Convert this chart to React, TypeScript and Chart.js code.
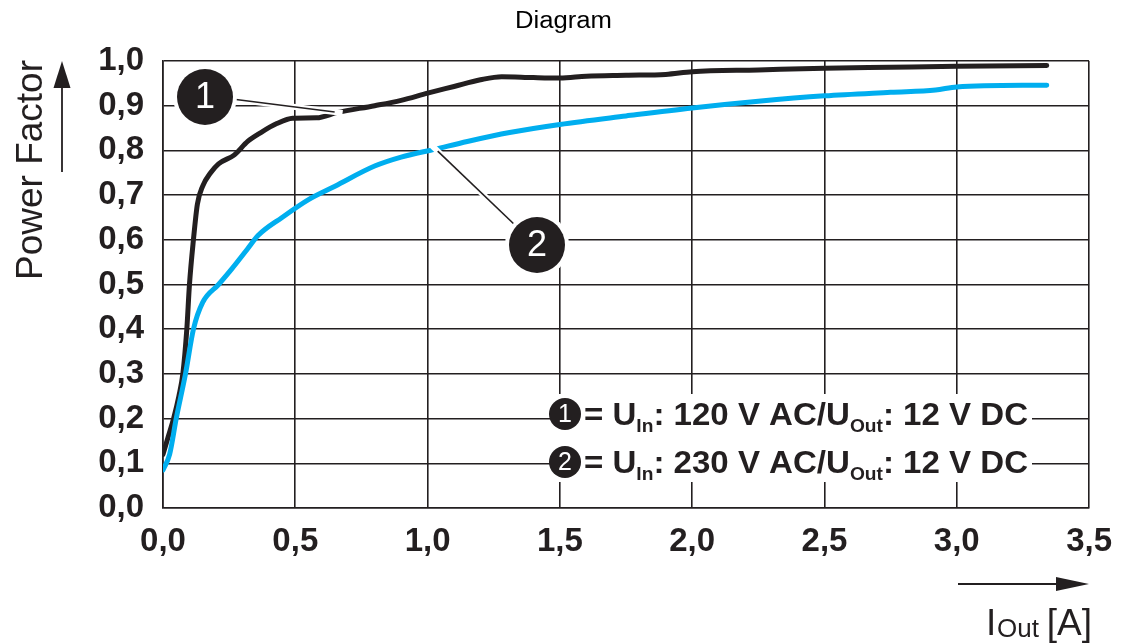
import React, { useEffect, useRef } from 'react';
import { Chart, registerables } from 'chart.js';

Chart.register(...registerables);

// ---- data ----
const current1 = [0, 0.02, 0.04, 0.06, 0.075, 0.09, 0.1, 0.115, 0.13, 0.15, 0.18, 0.21, 0.27, 0.32, 0.37, 0.43, 0.49, 0.58, 0.66, 0.8, 0.9, 1.0, 1.1, 1.2, 1.28, 1.4, 1.5, 1.6, 1.75, 1.9, 2.0, 2.25, 2.5, 2.75, 3.0, 3.34];
const pf1 = [0.12, 0.16, 0.2, 0.25, 0.3, 0.4, 0.5, 0.6, 0.68, 0.72, 0.75, 0.77, 0.79, 0.82, 0.84, 0.86, 0.872, 0.873, 0.885, 0.9, 0.912, 0.928, 0.943, 0.958, 0.965, 0.963, 0.962, 0.966, 0.968, 0.97, 0.976, 0.98, 0.984, 0.986, 0.988, 0.99];
const current2 = [0, 0.025, 0.05, 0.085, 0.115, 0.15, 0.21, 0.26, 0.32, 0.36, 0.45, 0.55, 0.65, 0.8, 0.9, 1.03, 1.15, 1.31, 1.5, 1.75, 2.0, 2.25, 2.5, 2.75, 2.92, 3.0, 3.34];
const pf2 = [0.085, 0.12, 0.2, 0.3, 0.4, 0.46, 0.5, 0.535, 0.58, 0.61, 0.65, 0.69, 0.72, 0.765, 0.785, 0.803, 0.82, 0.84, 0.858, 0.877, 0.895, 0.91, 0.922, 0.93, 0.935, 0.942, 0.946];
const seriesNames = ['1', '2'];
const inputVoltages = ['120 V AC', '230 V AC'];
const outputVoltage = '12 V DC';
const xMin = 0, xMax = 3.5, xStep = 0.5;
const yMin = 0, yMax = 1, yStep = 0.1;
// annotation anchors (data values where leader lines touch the curves)
const anchor1 = { x: 0.66, y: 0.885 };
const anchor2 = { x: 1.03, y: 0.803 };

const INK = '#231F20';
const BLUE = '#00AEEF';
const FONT = '"Liberation Sans", Arial, Helvetica, sans-serif';

function circleLabel(ctx: CanvasRenderingContext2D, cx: number, cy: number, r: number, label: string, size: number, halo: number) {
  if (halo > 0) {
    ctx.beginPath();
    ctx.arc(cx, cy, r + halo, 0, Math.PI * 2);
    ctx.fillStyle = '#fff';
    ctx.fill();
  }
  ctx.beginPath();
  ctx.arc(cx, cy, r, 0, Math.PI * 2);
  ctx.fillStyle = INK;
  ctx.fill();
  ctx.fillStyle = '#fff';
  ctx.font = `${size}px ${FONT}`;
  ctx.textAlign = 'center';
  ctx.textBaseline = 'middle';
  ctx.fillText(label, cx, cy + 1);
}

function leader(ctx: CanvasRenderingContext2D, x1: number, y1: number, x2: number, y2: number) {
  const dx = x2 - x1, dy = y2 - y1;
  const len = Math.hypot(dx, dy);
  const ux = dx / len, uy = dy / len;
  ctx.lineCap = 'butt';
  ctx.strokeStyle = '#fff';
  ctx.lineWidth = 6;
  ctx.beginPath();
  ctx.moveTo(x1, y1);
  ctx.lineTo(x2 + ux * 5, y2 + uy * 5);
  ctx.stroke();
  ctx.strokeStyle = INK;
  ctx.lineWidth = 1.6;
  ctx.beginPath();
  ctx.moveTo(x1, y1);
  ctx.lineTo(x2 - ux * 3, y2 - uy * 3);
  ctx.stroke();
}

function richText(ctx: CanvasRenderingContext2D, x: number, y: number, parts: [string, boolean][], main: string, sub: string, subDy: number, targetW: number) {
  let total = 0;
  for (const [t, isSub] of parts) {
    ctx.font = isSub ? sub : main;
    total += ctx.measureText(t).width;
  }
  ctx.save();
  ctx.translate(x, y);
  ctx.scale(targetW / total, 1);
  let cx = 0;
  ctx.textAlign = 'left';
  ctx.textBaseline = 'alphabetic';
  for (const [t, isSub] of parts) {
    ctx.font = isSub ? sub : main;
    ctx.fillText(t, cx, isSub ? subDy : 0);
    cx += ctx.measureText(t).width;
  }
  ctx.restore();
}

const annotations = {
  id: 'annotations',
  afterDraw(chart: any) {
    const ctx: CanvasRenderingContext2D = chart.ctx;
    const xs = chart.scales.x, ys = chart.scales.y;
    ctx.save();

    // Title
    ctx.fillStyle = '#000';
    richText(ctx, 515, 28, [['Diagram', false]], `23px ${FONT}`, `23px ${FONT}`, 0, 97);

    // Y axis title (rotated)
    ctx.save();
    ctx.translate(42, 170);
    ctx.rotate(-Math.PI / 2);
    ctx.fillStyle = INK;
    ctx.font = `37px ${FONT}`;
    ctx.textAlign = 'center';
    ctx.textBaseline = 'alphabetic';
    ctx.fillText('Power Factor', 0, 0);
    ctx.restore();

    // Y arrow
    ctx.strokeStyle = INK;
    ctx.fillStyle = INK;
    ctx.lineWidth = 1.8;
    ctx.beginPath();
    ctx.moveTo(62, 172);
    ctx.lineTo(62, 86);
    ctx.stroke();
    ctx.beginPath();
    ctx.moveTo(62, 61);
    ctx.lineTo(53.5, 88);
    ctx.lineTo(70.5, 88);
    ctx.closePath();
    ctx.fill();

    // X arrow
    ctx.beginPath();
    ctx.moveTo(958, 584);
    ctx.lineTo(1060, 584);
    ctx.stroke();
    ctx.beginPath();
    ctx.moveTo(1089, 584);
    ctx.lineTo(1056, 577);
    ctx.lineTo(1056, 591);
    ctx.closePath();
    ctx.fill();

    // X title I_Out [A]
    ctx.fillStyle = INK;
    ctx.textAlign = 'left';
    ctx.textBaseline = 'alphabetic';
    ctx.font = `37px ${FONT}`;
    ctx.fillText('I', 986, 635);
    ctx.font = `26px ${FONT}`;
    ctx.fillText('Out', 997, 637);
    ctx.font = `37px ${FONT}`;
    ctx.textAlign = 'right';
    ctx.fillText('[A]', 1092, 635);

    // Leader lines and numbered circles
    const a1x = xs.getPixelForValue(anchor1.x), a1y = ys.getPixelForValue(anchor1.y);
    const a2x = xs.getPixelForValue(anchor2.x), a2y = ys.getPixelForValue(anchor2.y);
    leader(ctx, 232, 99, a1x, a1y);
    leader(ctx, 516, 226, a2x, a2y);
    circleLabel(ctx, 205, 97, 28, seriesNames[0], 36, 4);
    circleLabel(ctx, 537, 245, 28, seriesNames[1], 36, 4);

    // Legend box
    ctx.fillStyle = '#fff';
    ctx.fillRect(550, 394, 482, 88);
    const rows = [
      { cy: 414, base: 425 },
      { cy: 462, base: 473 },
    ];
    rows.forEach((r, i) => {
      circleLabel(ctx, 565, r.cy, 16, seriesNames[i], 25, 0);
      ctx.fillStyle = INK;
      richText(
        ctx,
        584,
        r.base,
        [
          ['= U', false],
          ['In', true],
          [': ' + inputVoltages[i] + '/U', false],
          ['Out', true],
          [': ' + outputVoltage, false],
        ],
        `bold 31px ${FONT}`,
        `bold 18px ${FONT}`,
        7,
        444
      );
    });

    ctx.restore();
  },
};

export default function App() {
  const ref = useRef<HTMLCanvasElement | null>(null);
  useEffect(() => {
    if (!ref.current) return;
    const fmt = (v: any) => Number(v).toFixed(1).replace('.', ',');
    const tickFont = { family: FONT, size: 33, weight: 'bold' as const };
    const chart = new Chart(ref.current, {
      type: 'line',
      data: {
        datasets: [
          {
            label: seriesNames[0],
            data: current1.map((x, i) => ({ x, y: pf1[i] })),
            borderColor: INK,
            borderWidth: 5,
            pointRadius: 0,
            cubicInterpolationMode: 'monotone',
            borderCapStyle: 'round',
            borderJoinStyle: 'round',
            fill: false,
            order: 1,
          },
          {
            label: seriesNames[1],
            data: current2.map((x, i) => ({ x, y: pf2[i] })),
            borderColor: BLUE,
            borderWidth: 5,
            pointRadius: 0,
            cubicInterpolationMode: 'monotone',
            borderCapStyle: 'round',
            borderJoinStyle: 'round',
            fill: false,
            order: 0,
          },
        ],
      },
      options: {
        responsive: false,
        animation: false,
        devicePixelRatio: 1,
        layout: { padding: { left: 0, top: 61, right: 34, bottom: 0 } },
        plugins: {
          legend: { display: false },
          tooltip: { enabled: false },
          title: { display: false },
        },
        scales: {
          x: {
            type: 'linear',
            min: xMin,
            max: xMax,
            ticks: {
              stepSize: xStep,
              padding: 14,
              color: INK,
              font: tickFont,
              maxRotation: 0,
              autoSkip: false,
              callback: fmt,
            },
            grid: { color: INK, lineWidth: 1.6, drawTicks: false },
            border: { color: INK, width: 1.6 },
            afterFit: (s: any) => {
              s.height = 135;
            },
          },
          y: {
            type: 'linear',
            min: yMin,
            max: yMax,
            ticks: {
              stepSize: yStep,
              padding: 19,
              color: INK,
              font: tickFont,
              autoSkip: false,
              callback: fmt,
            },
            grid: { color: INK, lineWidth: 1.6, drawTicks: false },
            border: { color: INK, width: 1.6 },
            afterFit: (s: any) => {
              s.width = 163;
            },
          },
        },
      } as any,
      plugins: [annotations],
    });
    return () => chart.destroy();
  }, []);
  return (
    <div style={{ position: 'absolute', left: 0, top: 0, width: 1126, height: 643, background: '#fff' }}>
      <canvas ref={ref} width={1126} height={643} style={{ display: 'block', width: 1126, height: 643 }} />
    </div>
  );
}
